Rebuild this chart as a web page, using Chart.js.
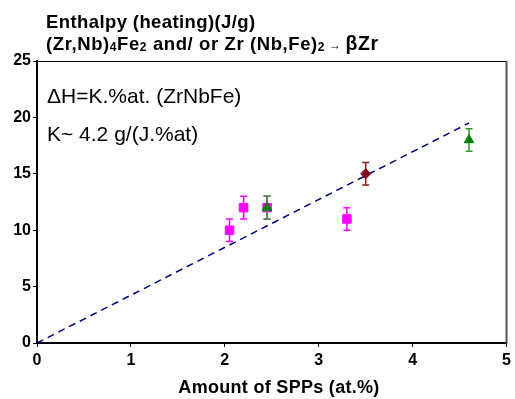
<!DOCTYPE html>
<html>
<head>
<meta charset="utf-8">
<script src="https://cdn.jsdelivr.net/npm/chart.js@4.4.1/dist/chart.umd.min.js"></script>
<style>
  html, body { margin: 0; padding: 0; background: #fff; }
  #wrap { width: 515px; height: 399px; }
</style>
</head>
<body>
<div id="wrap"><canvas id="enthalpy-chart" width="515" height="399"></canvas></div>
<script>
// values
const squareX = [2.05, 2.2, 2.45, 3.3];
const squareY = [10, 12, 12, 11];
const squareErr = [1, 1, 1, 1];

const triangleX = [2.45, 4.6];
const triangleY = [12, 18];
const triangleErr = [1, 1];

const diamondX = [3.5];
const diamondY = [15];
const diamondErr = [1];

// fitted line dH = K * at.%
const fitX = [0, 4.6];
const fitY = [0, 19.5];

const xTicks = [0, 1, 2, 3, 4, 5];
const yTicks = [0, 5, 10, 15, 20, 25];

const FONT = '"Liberation Sans", Arial, sans-serif';

function toPoints(xs, ys, errs) {
    return xs.map((x, i) => ({ x: x, y: ys[i], err: errs ? errs[i] : 0 }));
}

// vertical error bars, drawn just before each dataset's markers
const errorBars = {
    id: 'errorBars',
    beforeDatasetDraw(chart, args) {
        const ds = chart.data.datasets[args.index];
        if (!ds.errColor) return;
        const ctx = chart.ctx;
        const xs = chart.scales.x, ys = chart.scales.y;
        ctx.save();
        ctx.strokeStyle = ds.errColor;
        ctx.lineWidth = 1.5;
        ds.data.forEach(p => {
            const px = xs.getPixelForValue(p.x);
            const top = ys.getPixelForValue(p.y + p.err);
            const bot = ys.getPixelForValue(p.y - p.err);
            ctx.beginPath();
            ctx.moveTo(px, top); ctx.lineTo(px, bot);
            ctx.moveTo(px - 3.5, top); ctx.lineTo(px + 3.5, top);
            ctx.moveTo(px - 3.5, bot); ctx.lineTo(px + 3.5, bot);
            ctx.stroke();
        });
        ctx.restore();
    }
};

// frame, titles and the formula text
const decorations = {
    id: 'decorations',
    beforeDatasetsDraw(chart) {
        const ctx = chart.ctx;
        const a = chart.chartArea;
        ctx.save();
        ctx.strokeStyle = '#000';
        ctx.lineWidth = 1;
        ctx.beginPath();
        ctx.moveTo(a.left, a.top + 0.5); ctx.lineTo(a.right, a.top + 0.5);
        ctx.stroke();
        ctx.strokeStyle = '#555';
        ctx.lineWidth = 2;
        ctx.beginPath();
        ctx.moveTo(a.right, a.top); ctx.lineTo(a.right, a.bottom);
        ctx.stroke();

        ctx.fillStyle = '#000';
        ctx.textBaseline = 'alphabetic';
        ctx.textAlign = 'left';
        ctx.font = '21px ' + FONT;
        ctx.fillText('\u0394H=K.%at. (ZrNbFe)', 47, 103);
        ctx.fillText('K~ 4.2 g/(J.%at)', 47, 141);
        ctx.restore();
    },
    afterDraw(chart) {
        const ctx = chart.ctx;
        ctx.save();
        ctx.fillStyle = '#000';
        ctx.textBaseline = 'alphabetic';
        ctx.textAlign = 'left';
        ctx.letterSpacing = '0.4px';
        ctx.font = 'bold 18.5px ' + FONT;
        ctx.fillText('Enthalpy (heating)(J/g)', 46, 28);

        // second title line with subscripts
        ctx.letterSpacing = '0.6px';
        const parts = [
            ['(Zr,Nb)', 18.5, 0], ['4', 12, 1], ['Fe', 18.5, 0], ['2', 12, 1],
            [' and/ or Zr (Nb,Fe)', 18.5, 0], ['2', 12, 1], [' \u2192 ', 12, -1], ['\u03b2Zr', 19.5, 0]
        ];
        let x = 46;
        parts.forEach(([txt, size, dy]) => {
            ctx.font = 'bold ' + size + 'px ' + FONT;
            ctx.fillText(txt, x, 50 + dy);
            x += ctx.measureText(txt).width;
        });

        ctx.letterSpacing = '0.3px';
        ctx.font = 'bold 18px ' + FONT;
        ctx.textAlign = 'center';
        ctx.fillText('Amount of SPPs (at.%)', 279, 393);
        ctx.restore();
    }
};

const ctx = document.getElementById('enthalpy-chart').getContext('2d');
new Chart(ctx, {
    type: 'scatter',
    data: {
        datasets: [{
            label: 'triangles',
            data: toPoints(triangleX, triangleY, triangleErr),
            pointStyle: 'triangle',
            pointRadius: 5.5,
            backgroundColor: '#008000',
            borderColor: '#008000',
            borderWidth: 1,
            errColor: '#2e9a2e'
        }, {
            label: 'diamond',
            data: toPoints(diamondX, diamondY, diamondErr),
            pointStyle: 'rectRot',
            pointRadius: 5,
            backgroundColor: '#800020',
            borderColor: '#800020',
            borderWidth: 1,
            errColor: '#8b1a1a'
        }, {
            label: 'squares',
            data: toPoints(squareX, squareY, squareErr),
            pointStyle: 'rect',
            pointRadius: 6,
            backgroundColor: '#ff00ff',
            borderColor: '#ff00ff',
            borderWidth: 1,
            errColor: '#ff00ff'
        }, {
            label: 'fit',
            data: toPoints(fitX, fitY),
            showLine: true,
            pointRadius: 0,
            borderColor: '#000080',
            borderWidth: 1.5,
            borderDash: [7, 5],
            fill: false
        }]
    },
    options: {
        responsive: false,
        animation: false,
        layout: { padding: { top: 61, right: 7, left: 0, bottom: 0 } },
        plugins: {
            legend: { display: false },
            tooltip: { enabled: false },
            title: { display: false }
        },
        scales: {
            x: {
                type: 'linear',
                min: 0,
                max: 5,
                afterFit: s => { s.height = 56; },
                afterBuildTicks: s => { s.ticks = xTicks.map(v => ({ value: v })); },
                grid: { drawOnChartArea: false, drawTicks: true, tickLength: 4, color: '#000' },
                border: { display: true, color: '#000', width: 2 },
                ticks: { color: '#000', padding: 4, maxRotation: 0, font: { family: FONT, size: 16, weight: 'bold' } }
            },
            y: {
                type: 'linear',
                min: 0,
                max: 25,
                afterFit: s => { s.width = 37; },
                afterBuildTicks: s => { s.ticks = yTicks.map(v => ({ value: v })); },
                grid: { drawOnChartArea: false, drawTicks: true, tickLength: 4, color: '#000' },
                border: { display: true, color: '#000', width: 2 },
                ticks: { color: '#000', padding: 2, font: { family: FONT, size: 16, weight: 'bold' } }
            }
        }
    },
    plugins: [errorBars, decorations]
});
</script>
</body>
</html>
